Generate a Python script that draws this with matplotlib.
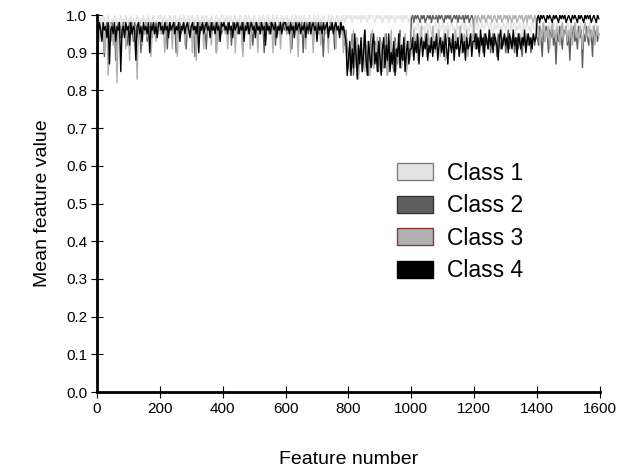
import numpy as np
import matplotlib
matplotlib.use("Agg")
import matplotlib.pyplot as plt
from matplotlib.patches import Patch

plt.rcParams['font.family'] = ['Liberation Sans', 'DejaVu Sans']

# === DATA (mean feature value x100, one value every 4 features) ===
STEP = 4
class1 = """
99 100 98 99 97 100 99 96 99 100 98 93 99 97 100 99 98 95 99 100 97 99 98 100 94 99 98 100 97 99 91 98 100 99 97 99 98 100 96 99 97 100 98 92 99 100 98 97 99 100
99 100 98 99 100 97 99 98 100 99 96 99 100 98 99 97 100 99 98 100 99 97 99 100 98 99 100 96 99 98 100 99 97 99 100 98 99 100 97 99 98 100 99 96 99 100 98 99 97 100
100 99 98 100 99 97 100 99 98 99 100 97 99 98 100 99 96 99 100 98 99 100 97 99 98 100 99 98 97 100 99 98 100 99 96 99 100 98 99 97 100 99 98 100 99 97 99 100 98 99
99 100 98 99 97 100 99 98 100 99 97 99 100 98 99 100 96 99 98 100 99 97 99 100 98 99 100 97 99 98 100 99 98 97 100 99 98 100 99 96 99 100 98 99 97 100 99 98 100 99
100 99 100 98 100 99 100 99 99 100 98 100 99 100 99 98 100 99 100 100 99 98 100 99 100 99 100 98 99 100 99 100 98 100 99 100 99 98 100 99 100 99 100 98 100 99 100 99 98 100
97 98 95 97 96 98 97 94 98 96 97 95 98 97 96 98 93 97 96 98 97 95 98 96 97 98 94 97 96 98 95 97 98 96 97 93 98 96 97 95 98 97 96 98 94 97 96 98 97 95
97 98 96 98 97 95 98 97 96 98 99 97 96 98 97 94 98 96 97 98 96 97 95 98 97 96 98 97 94 98 96 97 98 95 97 96 98 97 93 98 96 97 98 96 97 95 98 97 96 98
97 96 98 95 97 98 96 97 94 98 96 97 95 98 97 96 98 93 97 96 98 97 95 96 98 97 94 98 96 97 95 98 96 97 94 98 97 96 98 95 97 96 98 94 97 96 98 97 95 97
"""
class2 = """
97 95 98 96 94 97 89 96 98 95 97 93 98 96 97 88 95 98 96 97 94 98 95 97 92 96 98 95 97 93 98 96 94 97 98 90 96 97 95 98 93 97 96 98 94 97 95 98 96 97
97 98 95 97 96 98 91 97 98 96 97 95 98 90 97 96 98 95 97 98 96 91 97 98 95 97 96 98 89 97 96 98 95 97 98 96 97 91 98 96 97 95 98 96 97 90 98 96 97 95
96 98 97 95 98 96 97 92 98 96 97 98 95 97 96 98 90 97 96 98 95 97 98 96 92 97 98 96 97 95 98 96 97 90 98 96 97 95 98 97 96 98 92 97 96 98 95 97 98 96
97 95 98 96 97 91 98 96 97 98 95 97 96 98 90 97 96 98 95 97 98 96 92 97 98 96 97 95 98 96 89 97 96 98 95 97 98 96 97 91 98 96 97 95 98 96 97 92 96 91
86 92 89 95 84 91 88 94 86 90 93 85 89 96 87 92 84 90 95 88 86 93 89 91 85 94 88 92 86 90 95 84 89 93 87 91 85 94 89 87 92 96 86 90 88 94 85 91 93 89
99 100 98 100 99 100 99 98 100 99 100 98 99 100 99 100 98 100 99 99 100 98 100 99 100 99 98 100 99 100 99 100 98 99 100 99 100 98 100 99 99 100 98 100 99 100 98 99 100 99
94 91 95 92 89 94 93 90 95 92 94 91 96 90 93 95 92 94 89 95 93 91 94 92 95 90 93 96 91 94 92 95 90 93 94 91 95 92 89 94 93 91 95 92 94 90 93 95 92 94
95 92 97 94 89 96 93 97 95 90 96 94 97 92 95 87 96 93 97 94 91 96 95 97 92 95 88 96 94 97 93 95 91 97 94 96 86 95 93 97 94 92 96 95 89 97 94 96 93 95
"""
class3 = """
96 98 93 97 95 98 90 96 97 84 95 98 96 92 97 95 82 96 98 94 97 95 98 91 96 97 88 95 98 96 93 97 83 95 98 96 92 97 95 98 94 97 96 89 95 98 96 93 97 95
97 95 98 96 90 97 98 95 96 97 91 98 96 97 89 98 95 97 96 98 92 97 95 98 96 97 90 98 96 88 97 95 98 96 97 91 98 95 97 96 98 92 97 96 98 90 97 93 98 96
96 98 95 97 91 98 96 97 95 98 90 97 96 98 95 97 89 98 96 97 95 98 91 97 96 98 95 97 90 98 96 97 95 98 92 96 97 98 95 97 90 98 96 97 95 98 91 97 96 98
97 95 98 96 90 97 98 95 96 97 89 98 96 97 95 98 91 97 96 98 95 97 90 98 96 97 95 98 92 97 96 98 95 97 90 98 96 97 95 98 91 97 96 98 95 97 90 96 94 85
90 85 93 88 96 86 91 94 83 89 92 87 95 85 90 93 88 84 91 96 86 92 89 94 90 87 93 85 91 95 88 84 92 89 96 86 90 93 85 91 88 94 86 92 89 95 84 90 93 88
93 89 96 91 95 88 94 92 97 90 93 95 89 96 92 94 91 97 93 90 95 92 96 89 94 91 95 88 93 96 90 94 92 95 89 96 93 91 94 97 90 93 95 92 96 89 94 92 95 93
99 100 98 100 99 98 100 99 100 98 99 100 99 100 98 99 100 99 98 100 99 100 98 99 100 99 100 98 100 99 98 100 99 100 98 99 100 99 100 98 99 100 98 100 99 100 99 98 100 99
94 97 92 96 95 98 93 96 94 97 91 95 98 94 96 93 97 95 92 96 98 94 95 97 93 96 94 97 92 95 98 94 96 93 97 95 91 96 98 94 95 97 93 96 94 97 92 95 97 94
"""
class4 = """
97 95 98 96 93 98 96 97 94 98 87 96 97 95 98 93 97 96 98 85 96 97 94 98 96 97 92 98 95 97 96 88 97 98 95 97 93 98 96 97 95 98 90 97 96 98 95 97 94 98
98 96 97 95 98 96 97 94 98 96 97 98 95 97 96 98 93 97 96 98 95 97 98 96 94 97 98 96 97 95 98 90 97 96 98 95 97 98 96 97 94 98 96 97 95 98 96 97 93 98
97 98 96 97 95 98 96 97 94 98 96 97 98 95 97 96 98 93 97 96 98 95 97 98 96 97 94 98 96 97 95 98 96 97 92 98 96 97 95 98 97 96 98 94 97 96 98 95 97 98
98 96 97 95 98 96 97 94 98 96 97 98 95 97 96 98 94 97 96 98 95 97 98 96 97 93 98 96 97 95 98 96 97 98 94 97 96 98 95 97 98 96 97 94 98 96 97 95 93 84
88 93 84 91 86 95 89 83 92 87 94 85 90 96 88 84 93 89 86 92 95 87 90 85 93 89 84 91 94 86 92 88 95 85 90 87 93 84 91 89 95 86 92 88 94 85 90 93 87 91
91 94 88 93 90 95 87 92 94 89 93 91 95 88 92 90 94 89 93 91 95 88 92 94 90 93 89 95 91 87 94 92 90 95 88 93 91 94 89 92 95 90 93 88 94 91 92 95 89 93
93 95 91 94 90 96 92 94 89 95 93 91 96 92 94 90 95 93 92 88 94 96 91 93 95 92 94 90 95 93 91 96 92 94 89 95 93 91 94 92 96 90 93 95 92 94 91 95 93 94
99 100 98 100 99 100 99 98 100 99 100 99 98 100 99 100 99 98 100 99 100 99 100 98 99 100 99 98 100 99 100 99 98 100 99 100 99 98 100 99 100 99 100 98 99 100 99 98 100 99
"""
labels = ["Class 1", "Class 2", "Class 3", "Class 4"]
colors = ["#e3e3e3", "#5e5e5e", "#b0b0b0", "#000000"]
edges = ["#808080", "#333333", "#8b3a3a", "#000000"]
xticks = [0, 200, 400, 600, 800, 1000, 1200, 1400, 1600]
yticks = [0.0, 0.1, 0.2, 0.3, 0.4, 0.5, 0.6, 0.7, 0.8, 0.9, 1.0]


def parse(s):
    rows = [r.split() for r in s.strip().splitlines()]
    for r in rows:
        assert len(r) == 50, len(r)
    return np.array([float(v) for r in rows for v in r]) / 100.0


series = [parse(c) for c in (class1, class2, class3, class4)]

fig = plt.figure(figsize=(6.29, 4.69), dpi=100)
ax = fig.add_axes([0.154, 0.164, 0.8, 0.804])

for vals, col in zip(series, colors):
    x = np.arange(len(vals)) * STEP
    ax.plot(x, vals, color=col, lw=1.0)

ax.set_xlim(0, 1600)
ax.set_ylim(0, 1.0)
ax.set_xticks(xticks)
ax.set_yticks(yticks)
ax.set_yticklabels([f"{t:.1f}" for t in yticks])
ax.tick_params(direction='inout', length=8, width=0.8, labelsize=11, colors='#000000', pad=3)
for s in ['top', 'right']:
    ax.spines[s].set_visible(False)
for s in ['left', 'bottom']:
    ax.spines[s].set_linewidth(2)
ax.set_ylabel("Mean feature value", fontsize=14, labelpad=11)
ax.set_xlabel("Feature number", fontsize=14, labelpad=25)

handles = [Patch(facecolor=c, edgecolor=e, linewidth=1, label=l)
           for c, e, l in zip(colors, edges, labels)]
ax.legend(handles=handles, loc='upper left', bbox_to_anchor=(0.556, 0.666),
          frameon=False, fontsize=16.5, handlelength=1.55, handleheight=0.75,
          labelspacing=0.42, handletextpad=0.6)

fig.savefig("out.png", dpi=100)
